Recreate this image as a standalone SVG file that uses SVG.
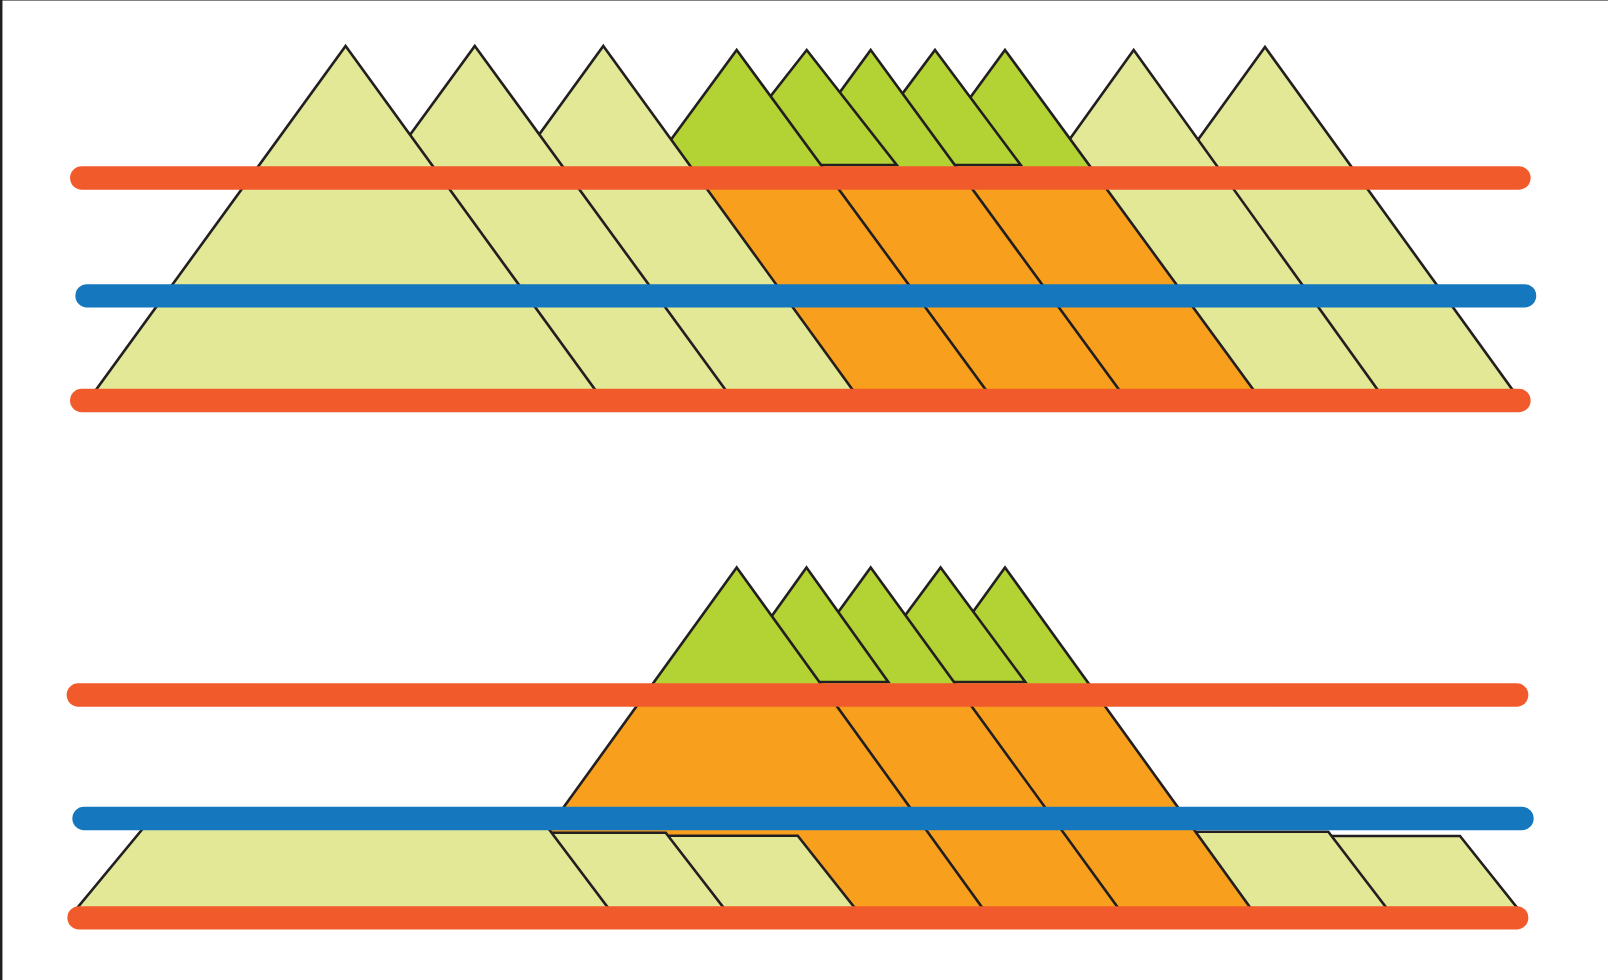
<svg xmlns="http://www.w3.org/2000/svg" width="1608" height="980" viewBox="0 0 1608 980">
<defs>
<linearGradient id="split" gradientUnits="userSpaceOnUse" x1="0" y1="0" x2="0" y2="980">
<stop offset="0" stop-color="#B3D334"/>
<stop offset="0.18163" stop-color="#B3D334"/>
<stop offset="0.18163" stop-color="#F8A01D"/>
<stop offset="0.5" stop-color="#F8A01D"/>
<stop offset="0.5" stop-color="#B3D334"/>
<stop offset="0.70918" stop-color="#B3D334"/>
<stop offset="0.70918" stop-color="#F8A01D"/>
<stop offset="1" stop-color="#F8A01D"/>
</linearGradient>
</defs>
<style>
.lg{fill:#E3E897;stroke:#231F20;stroke-width:2.6}
.gr{fill:#B3D334;stroke:#231F20;stroke-width:2.6}
.sp{fill:url(#split);stroke:#231F20;stroke-width:2.6}
.bo{stroke:#F15A2B;stroke-width:23.3;stroke-linecap:round;fill:none}
.bb{stroke:#1577BD;stroke-width:23.3;stroke-linecap:round;fill:none}
</style>
<rect x="0" y="0" width="1608" height="980" fill="#FFFFFF"/>
<g id="frame">
<line x1="0" y1="0.5" x2="1608" y2="0.5" stroke="#808080" stroke-width="1"/>
<line x1="1.2" y1="0" x2="1.2" y2="980" stroke="#231F20" stroke-width="2.5"/>
</g>
<g id="top-panel">
<g id="t10"><polygon class="lg" points="1265,47 1520.6,401 1009.4,401"/></g>
<g id="t9"><polygon class="lg" points="1133.7,50 1385.7,401 881.7,401"/></g>
<g id="t8"><polygon class="sp" points="1005,50 1261.6,401 748.4,401"/></g>
<g id="t7"><polygon class="gr" points="935,50 1020.7,165 849.3,165"/></g>
<g id="t6"><polygon class="sp" points="870.7,50 1127.3,401 614.1,401"/></g>
<g id="t5"><polygon class="gr" points="806.7,50 896.7,165 716.7,165"/></g>
<g id="t4"><polygon class="sp" points="736.7,50 994,401 479.4,401"/></g>
<g id="t3"><polygon class="lg" points="603.3,46 860.7,401 345.9,401"/></g>
<g id="t2"><polygon class="lg" points="474.8,46 733.6,401 216,401"/></g>
<g id="t1"><polygon class="lg" points="345.6,46 603.3,401 87.9,401"/></g>
</g>
<g id="bottom-panel">
<g id="b10"><polygon class="lg" points="1300,836 1460,836 1520.5,912 1360,912"/></g>
<g id="b9"><polygon class="lg" points="1150,831.7 1328.3,831.7 1389.6,912 1210,912"/></g>
<g id="b8"><polygon class="sp" points="1005,567.5 1253.4,912 756.6,912"/></g>
<g id="b7"><polygon class="gr" points="940.6,567.5 1025.3,682 855.9,682"/></g>
<g id="b6"><polygon class="sp" points="870.7,567.5 1121.1,912 620.3,912"/></g>
<g id="b5"><polygon class="gr" points="806.5,567.5 888.3,682 724.7,682"/></g>
<g id="b4"><polygon class="sp" points="736.7,567.5 985.4,912 488,912"/></g>
<g id="b3"><polygon class="lg" points="640,835.7 797.7,835.7 858,912 700,912"/></g>
<g id="b2"><polygon class="lg" points="520,832.7 665.7,832.7 726.9,912 580,912"/></g>
<g id="b1"><polygon class="lg" points="145,826 546.5,826 611.2,912 73.9,912"/></g>
</g>
<g id="connectors">
<line class="bo" x1="81.7" y1="178" x2="1519" y2="178"/>
<line class="bb" x1="87" y1="295.8" x2="1524.6" y2="295.8"/>
<line class="bo" x1="81.7" y1="400.5" x2="1519" y2="400.5"/>
<line class="bo" x1="78.3" y1="695" x2="1516.7" y2="695"/>
<line class="bb" x1="84" y1="818.5" x2="1522" y2="818.5"/>
<line class="bo" x1="79" y1="917.8" x2="1516.7" y2="917.8"/>
</g>
</svg>
